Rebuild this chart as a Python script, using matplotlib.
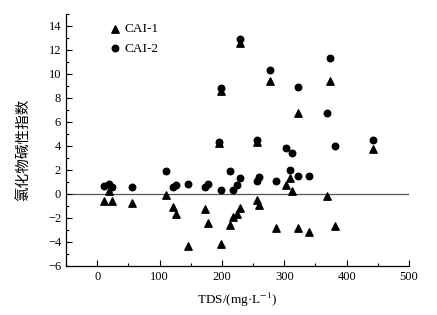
import matplotlib.pyplot as plt
from matplotlib.ticker import MultipleLocator

plt.rcParams['font.family'] = ['Liberation Serif', 'Noto Sans CJK SC']
plt.rcParams['mathtext.fontset'] = 'stix'

# TDS values (mg/L) and the two indices
tds = [11, 19, 24, 56, 111, 122, 126, 145, 173, 177, 196, 199, 199, 213, 217, 224,
       229, 229, 256, 256, 260, 277, 286, 302, 309, 312, 322, 322, 339, 369, 374, 382, 443]
cai1 = [-0.63, 0.22, -0.63, -0.75, -0.08, -1.08, -1.68, -4.37, -1.27, -2.4, 4.2, 8.6, -4.2,
        -2.63, -1.96, -1.71, -1.19, 12.6, -0.55, 4.3, -0.91, 9.4, -2.87, 0.7, 1.3, 0.25,
        6.7, -2.85, -3.2, -0.19, 9.4, -2.68, 3.7]
cai2 = [0.67, 0.78, 0.6, 0.53, 1.88, 0.55, 0.7, 0.86, 0.58, 0.8, 4.3, 8.8, 0.33,
        1.88, 0.3, 0.75, 1.36, 12.9, 1.05, 4.5, 1.38, 10.3, 1.08, 3.8, 1.97, 3.4,
        8.9, 1.47, 1.5, 6.7, 11.3, 4.0, 4.5]

fig = plt.figure(figsize=(4.37, 3.15), dpi=100)
ax = fig.add_axes([0.151, 0.156, 0.785, 0.80])

ax.axhline(0, color='#555555', lw=0.9, zorder=1)
ax.scatter(tds, cai1, marker='^', s=28, color='black', label='CAI-1', zorder=3)
ax.scatter(tds, cai2, marker='o', s=22, color='black', label='CAI-2', zorder=3)

ax.set_xlim(-50, 500)
ax.set_ylim(-6, 15)
ax.xaxis.set_major_locator(MultipleLocator(100))
ax.xaxis.set_minor_locator(MultipleLocator(50))
ax.set_yticks(range(-6, 15, 2))
ax.yaxis.set_minor_locator(MultipleLocator(1))
ax.tick_params(which='both', direction='in', labelsize=9, width=0.8)
ax.tick_params(which='major', length=4)
ax.tick_params(which='minor', length=2.5)
for s in ['top', 'right']:
    ax.spines[s].set_visible(False)
for s in ['left', 'bottom']:
    ax.spines[s].set_linewidth(0.9)

ax.set_xlabel('TDS/(mg·L$^{-1}$)', fontsize=9.5, labelpad=6)
ax.set_ylabel('氯化物碱性指数', fontsize=10.5, family=['Noto Sans CJK SC'])
ax.yaxis.set_label_coords(-0.105, 0.46)

ax.legend(loc='upper left', bbox_to_anchor=(0.094, 1.0), frameon=False, fontsize=9.5,
          handlelength=1.2, handletextpad=0.1, labelspacing=0.55, borderaxespad=0.3)

fig.savefig('out.png', dpi=100)
